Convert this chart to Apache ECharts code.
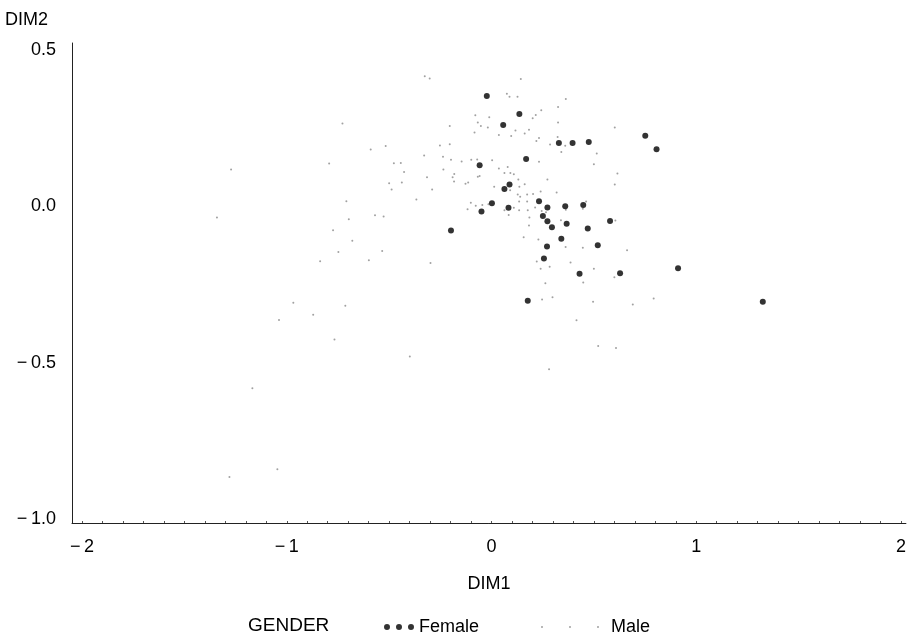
<!DOCTYPE html>
<html>
<head>
<meta charset="utf-8">
<script src="https://cdn.jsdelivr.net/npm/echarts@6/dist/echarts.min.js"></script>
<style>
  html, body { margin: 0; padding: 0; background: #fff; }
  #chart { width: 909px; height: 639px; }
</style>
</head>
<body>
<div id="chart"></div>
<script>
// Correspondence analysis scores (DIM1, DIM2) by gender
const femalePoints = [
  [-0.023, 0.352], [0.136, 0.294], [0.057, 0.259], [0.169, 0.151], [-0.058, 0.131],
  [0.088, 0.069], [0.063, 0.055], [0.002, 0.009], [0.083, -0.005], [-0.049, -0.017],
  [-0.198, -0.078], [0.329, 0.202], [0.396, 0.202], [0.475, 0.205], [0.751, 0.225],
  [0.806, 0.182], [0.232, 0.016], [0.273, -0.004], [0.360, 0.000], [0.448, 0.004],
  [0.251, -0.031], [0.273, -0.048], [0.367, -0.056], [0.295, -0.067], [0.579, -0.047],
  [0.470, -0.071], [0.341, -0.104], [0.271, -0.129], [0.519, -0.125], [0.256, -0.167],
  [0.430, -0.216], [0.628, -0.214], [0.911, -0.198], [0.177, -0.302], [1.325, -0.305]
];

const malePoints = [
  [-1.272, 0.117], [-1.341, -0.036], [-0.326, 0.415], [-0.302, 0.408], [0.143, 0.406],
  [0.075, 0.359], [0.088, 0.349], [0.127, 0.349], [-0.728, 0.264], [-0.079, 0.290],
  [-0.011, 0.284], [-0.067, 0.267], [-0.052, 0.256], [-0.018, 0.251], [-0.204, 0.256],
  [-0.083, 0.235], [0.036, 0.227], [0.117, 0.242], [0.096, 0.224], [0.162, 0.232],
  [-0.517, 0.192], [-0.590, 0.181], [-0.204, 0.198], [-0.252, 0.194], [-0.793, 0.136],
  [-0.477, 0.137], [-0.443, 0.138], [-0.427, 0.109], [-0.329, 0.162], [-0.237, 0.158],
  [-0.198, 0.148], [-0.146, 0.143], [-0.099, 0.148], [-0.070, 0.149], [0.003, 0.147],
  [-0.235, 0.117], [-0.182, 0.103], [-0.190, 0.092], [-0.183, 0.079], [-0.315, 0.092],
  [-0.067, 0.094], [-0.058, 0.096], [0.036, 0.120], [0.079, 0.125], [0.063, 0.106],
  [0.092, 0.106], [0.109, 0.102], [0.131, 0.085], [0.162, 0.070], [-0.500, 0.073],
  [-0.438, 0.076], [-0.488, 0.053], [-0.290, 0.053], [-0.127, 0.072], [-0.114, 0.076],
  [0.013, 0.062], [0.091, 0.051], [0.136, 0.062], [0.174, 0.037], [0.128, 0.037],
  [0.140, 0.030], [0.135, 0.015], [0.174, 0.015], [0.177, -0.013], [0.135, -0.013],
  [0.109, -0.005], [0.084, -0.028], [0.063, -0.013], [-0.367, 0.021], [-0.101, 0.011],
  [-0.077, 0.001], [-0.045, 0.004], [-0.117, -0.010], [-0.015, 0.006], [-0.709, 0.016],
  [-0.697, -0.042], [-0.774, -0.077], [-0.569, -0.029], [-0.527, -0.033], [0.157, -0.099],
  [0.363, 0.342], [0.325, 0.317], [0.243, 0.306], [0.216, 0.291], [0.201, 0.281],
  [0.325, 0.267], [0.183, 0.244], [0.323, 0.221], [0.232, 0.218], [0.219, 0.208],
  [0.286, 0.197], [0.360, 0.193], [0.341, 0.173], [0.602, 0.251], [0.514, 0.168],
  [0.500, 0.134], [0.232, 0.142], [0.615, 0.104], [0.602, 0.069], [0.273, 0.085],
  [0.240, 0.047], [0.318, 0.044], [0.203, 0.039], [0.462, 0.015], [0.213, -0.004],
  [0.363, -0.011], [0.446, -0.008], [0.245, -0.015], [0.266, -0.019], [0.185, -0.036],
  [0.183, -0.062], [0.339, -0.045], [0.605, -0.046], [0.229, -0.106], [0.362, -0.130],
  [0.446, -0.133], [0.662, -0.141], [0.221, -0.177], [0.240, -0.200], [0.284, -0.193],
  [0.386, -0.180], [0.500, -0.200], [0.600, -0.227], [0.448, -0.244], [0.263, -0.246],
  [0.247, -0.298], [0.298, -0.291], [0.496, -0.305], [0.690, -0.314], [0.792, -0.295],
  [0.415, -0.364], [0.521, -0.446], [0.608, -0.453], [0.281, -0.521], [-0.680, -0.110],
  [-0.748, -0.146], [-0.534, -0.143], [-0.837, -0.176], [-0.599, -0.173], [-0.298, -0.181],
  [-0.714, -0.318], [-0.871, -0.347], [-0.767, -0.426], [-0.399, -0.480], [-0.968, -0.308],
  [-1.038, -0.363], [-1.168, -0.581], [-1.046, -0.840], [-1.280, -0.865]
];

const xTickLabels = [-2, -1, 0, 1, 2];
const yTickLabels = [-1.0, -0.5, 0.0, 0.5];

// minor ticks every 0.1 along DIM1
const xMinorTicks = [];
for (let i = -20; i <= 20; i++) xMinorTicks.push(i / 10);

const FONT = '"Liberation Sans", Arial, Helvetica, sans-serif';
// typographic minus followed by a thin space
const minus = s => String(s).replace('-', '\u2212\u2009');

const chart = echarts.init(document.getElementById('chart'), null, { renderer: 'canvas' });

chart.setOption({
  animation: false,
  backgroundColor: '#ffffff',
  textStyle: { fontFamily: FONT, color: '#000' },
  title: {
    text: 'GENDER',
    left: 243,
    top: 611,
    textStyle: { fontFamily: FONT, fontSize: 19, fontWeight: 'normal', color: '#000' }
  },
  legend: [
    {
      data: [{ name: 'Female', icon: 'path://M0,3a3,3 0 1,0 6,0a3,3 0 1,0 -6,0M12,3a3,3 0 1,0 6,0a3,3 0 1,0 -6,0M24,3a3,3 0 1,0 6,0a3,3 0 1,0 -6,0' }],
      left: 379,
      top: 613,
      itemWidth: 30,
      itemHeight: 6,
      itemGap: 0,
      textStyle: { fontFamily: FONT, fontSize: 18, color: '#000' }
    },
    {
      data: [{ name: 'Male', icon: 'path://M0,1a1,1 0 1,0 2,0a1,1 0 1,0 -2,0M28,1a1,1 0 1,0 2,0a1,1 0 1,0 -2,0M56,1a1,1 0 1,0 2,0a1,1 0 1,0 -2,0' }],
      left: 536,
      top: 613,
      itemWidth: 58,
      itemHeight: 2,
      itemGap: 0,
      textStyle: { fontFamily: FONT, fontSize: 18, color: '#000', padding: [0, 0, 0, 7] }
    }
  ],
  grid: { left: 72, right: 0, top: 43, bottom: 116, containLabel: false },
  xAxis: {
    type: 'value',
    min: -2.049,
    max: 2.024,
    name: 'DIM1',
    nameLocation: 'middle',
    nameGap: 52,
    nameTextStyle: { fontFamily: FONT, fontSize: 18, color: '#000' },
    axisLine: { show: true, onZero: false, lineStyle: { color: '#222', width: 1 } },
    axisTick: { show: true, inside: true, length: 2, customValues: xMinorTicks, lineStyle: { color: '#555' } },
    axisLabel: {
      customValues: xTickLabels,
      margin: 15,
      fontFamily: FONT,
      fontSize: 18,
      color: '#000',
      formatter: v => minus(v)
    },
    splitLine: { show: false }
  },
  yAxis: {
    type: 'value',
    min: -1.0115,
    max: 0.521,
    name: 'DIM2',
    nameLocation: 'end',
    nameGap: 14,
    nameTextStyle: { fontFamily: FONT, fontSize: 18, color: '#000', align: 'right', padding: [0, 24, 0, 0] },
    axisLine: { show: true, onZero: false, lineStyle: { color: '#222', width: 1 } },
    axisTick: { show: false },
    axisLabel: {
      customValues: yTickLabels,
      margin: 16,
      fontFamily: FONT,
      fontSize: 18,
      color: '#000',
      formatter: v => minus(Number(v).toFixed(1))
    },
    splitLine: { show: false }
  },
  series: [
    {
      name: 'Male',
      type: 'scatter',
      data: malePoints,
      symbol: 'circle',
      symbolSize: 2,
      itemStyle: { color: '#8a8a8a' },
      z: 2
    },
    {
      name: 'Female',
      type: 'scatter',
      data: femalePoints,
      symbol: 'circle',
      symbolSize: 6,
      itemStyle: { color: '#000000' },
      z: 3
    }
  ]
});
</script>
</body>
</html>
